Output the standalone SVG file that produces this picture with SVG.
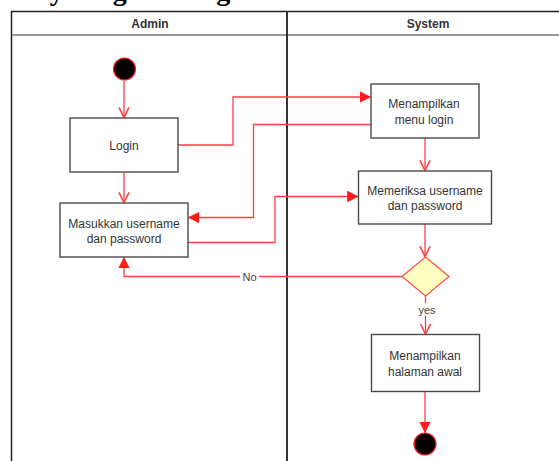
<svg xmlns="http://www.w3.org/2000/svg" width="559" height="461" viewBox="0 0 559 461">
<style>
.t{font-family:"Liberation Sans",Arial,sans-serif;font-size:12px;fill:#333;text-anchor:middle}
.h{font-family:"Liberation Sans",Arial,sans-serif;font-size:12px;font-weight:bold;fill:#333;text-anchor:middle}
.box{fill:#fff;stroke:#4a4a4a;stroke-width:1.4}
.c{fill:none;stroke:#ff4040;stroke-width:1.3}
.lbl{font-family:"Liberation Sans",Arial,sans-serif;font-size:11px;fill:#444;text-anchor:middle}
</style>
<defs>
<marker id="fill" markerUnits="userSpaceOnUse" markerWidth="12" markerHeight="12" refX="9" refY="5" orient="auto" viewBox="0 0 10 10">
<path d="M0,0.5 L9,5 L0,9.5 Z" fill="#ff1a1a" stroke="#ff1a1a" stroke-width="0.5"/>
</marker>
<marker id="open" markerUnits="userSpaceOnUse" markerWidth="12" markerHeight="12" refX="9" refY="5" orient="auto" viewBox="0 0 10 10">
<path d="M0.5,0.8 L9,5 L0.5,9.2" fill="none" stroke="#ff4040" stroke-width="1.3"/>
</marker>
</defs>
<rect width="559" height="461" fill="#fff"/>
<text x="-31" y="-0.5" font-family="Liberation Serif,serif" font-weight="bold" font-size="28" fill="#000">Activity Diagram Login</text>
<g id="swimlanes">
<line x1="11.5" y1="11" x2="11.5" y2="461" stroke="#222" stroke-width="1.5"/>
<line x1="11" y1="11.5" x2="559" y2="11.5" stroke="#222" stroke-width="1.5"/>
<line x1="12" y1="35" x2="559" y2="35" stroke="#999" stroke-width="2"/>
<line x1="287" y1="11" x2="287" y2="461" stroke="#333" stroke-width="2"/>
<text class="h" x="150" y="28">Admin</text>
<text class="h" x="428" y="28">System</text>
</g>
<g id="connectors">
<path class="c" d="M124,81 V117.5" marker-end="url(#open)"/>
<path class="c" d="M124,172 V202.5" marker-end="url(#open)"/>
<path class="c" d="M178,145 H233 V97 H370.5" marker-end="url(#fill)"/>
<path class="c" d="M371,124.5 H253.5 V217.5 H188.5" marker-end="url(#fill)"/>
<path class="c" d="M188,242.5 H275 V196.5 H358" marker-end="url(#fill)"/>
<path class="c" d="M425,138.5 V170.5" marker-end="url(#open)"/>
<path class="c" d="M425,224 V256.5" marker-end="url(#open)"/>
<path class="c" d="M402,276.5 H124 V257.5" marker-end="url(#fill)"/>
<path class="c" d="M425.5,296 V334" marker-end="url(#open)"/>
<path class="c" d="M425,391.5 V432.5" marker-end="url(#fill)"/>
<rect x="240" y="269" width="19" height="14" fill="#fff"/>
<text class="lbl" x="249.5" y="280.5">No</text>
<rect x="417" y="303" width="20" height="13" fill="#fff"/>
<text class="lbl" x="427" y="314">yes</text>
</g>
<g id="start"><circle cx="124.5" cy="69" r="11" fill="#000" stroke="#ff2020" stroke-width="1.2"/></g>
<g id="login"><rect class="box" x="70" y="118" width="108" height="54"/><text class="t" x="124" y="150">Login</text></g>
<g id="masukkan"><rect class="box" x="60" y="203" width="128" height="54"/><text class="t" x="124" y="227.5">Masukkan username</text><text class="t" x="124" y="242.5">dan password</text></g>
<g id="menampilkan-menu"><rect class="box" x="371" y="84" width="108" height="54"/><text class="t" x="424" y="108">Menampilkan</text><text class="t" x="424" y="123.5">menu login</text></g>
<g id="memeriksa"><rect class="box" x="358.5" y="171" width="133" height="53"/><text class="t" x="425" y="195">Memeriksa username</text><text class="t" x="425" y="209.5">dan password</text></g>
<g id="decision"><polygon points="425.5,257 449,276.5 425.5,296 402,276.5" fill="#ffffc0" stroke="#ff5050" stroke-width="1.3"/></g>
<g id="menampilkan-halaman"><rect class="box" x="371.5" y="334.5" width="108" height="57"/><text class="t" x="425" y="360">Menampilkan</text><text class="t" x="425" y="376">halaman awal</text></g>
<g id="end"><circle cx="425" cy="444" r="11" fill="#000" stroke="#ff2020" stroke-width="1.2"/></g>
</svg>
